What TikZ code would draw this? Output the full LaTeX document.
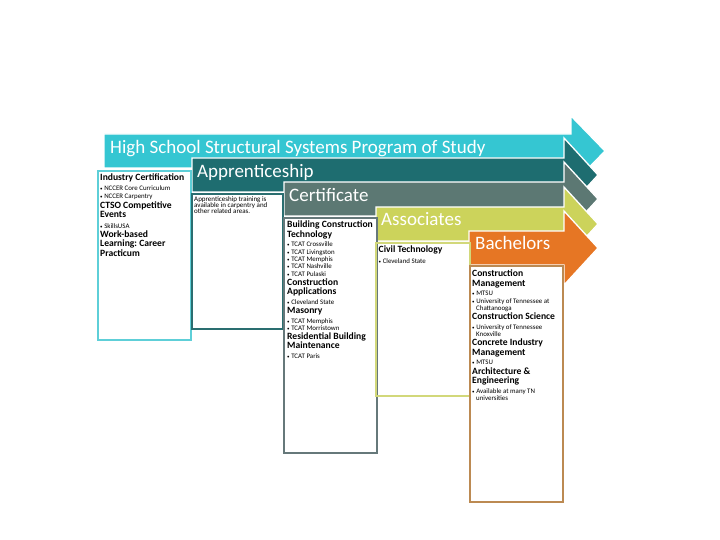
\documentclass[tikz,border=0pt]{standalone}
\usepackage{fontspec}
\setmainfont{Carlito}
\frenchspacing
\definecolor{aCyan}{HTML}{35C6D2}
\definecolor{aTeal}{HTML}{1E6D70}
\definecolor{aGrey}{HTML}{5C7873}
\definecolor{aYell}{HTML}{CCD35B}
\definecolor{aOran}{HTML}{E67624}
\definecolor{bCyan}{HTML}{5ECFD8}
\definecolor{bTeal}{HTML}{2A6E70}
\definecolor{bGrey}{HTML}{66787A}
\definecolor{bYell}{HTML}{D2D87A}
\definecolor{bOran}{HTML}{BC8A52}
\newcommand\hd[1]{{\fontsize{9.6}{9.1}\selectfont\bfseries #1\par}\vspace{2.6pt}}
\newcommand\bl[1]{{\fontsize{6.9}{7.3}\selectfont{\fontsize{5}{5}\selectfont\textbullet}~#1\par}}
\newcommand\stagearrow[6]{%
  \fill[#1,draw=white,line width=1.3pt,line join=miter]
    (#2,#3) -- (#4,#3) -- (#4,#3-#6) -- (#5,#3+17) -- (#4,#3+34+#6)
    -- (#4,#3+34) -- (#2,#3+34) -- cycle;}
\tikzset{
  title/.style={anchor=base west,text=white,font=\fontsize{19}{21}\selectfont,inner sep=0pt},
  boxline/.style={line width=1.6pt},
  boxtext/.style={anchor=north west,inner sep=0pt,align=flush left,text width=#1}
}
\begin{document}
\begin{tikzpicture}[x=1pt,y=-1pt]
\useasboundingbox[fill=white] (0,0) rectangle (720,540);
% arrows
\stagearrow{aCyan}{104}{134}{571}{605}{18}
\stagearrow{aTeal}{192}{158}{564}{598}{20}
\stagearrow{aGrey}{284}{182}{564}{598}{20}
\stagearrow{aYell}{376}{207}{564}{598}{20}
\stagearrow{aOran}{469}{231}{564}{598}{20}
\node[title] (t1) at (110,153.5) {High School Structural Systems Program of Study};
\node[title] (t2) at (197,177.5) {Apprenticeship};
\node[title] (t3) at (289,201.5) {Certificate};
\node[title] (t4) at (381,225.5) {Associates};
\node[title] (t5) at (475,249.5) {Bachelors};
% boxes
\draw[boxline,bCyan] (98,171) rectangle (191,340);
\draw[boxline,bTeal] (192,194) rectangle (283,329);
\draw[boxline,bGrey] (284,218) rectangle (377,453);
\draw[boxline,bYell] (376,243) rectangle (470,396);
\draw[boxline,bOran] (470,266) rectangle (563,502);
\node[boxtext=89pt] (c1) at (100,174) {%
  \hd{Industry Certification}
  \bl{NCCER Core Curriculum}
  \bl{NCCER Carpentry}
  \vspace{1.5pt}\hd{CTSO Competitive\\Events}
  \vspace{1pt}\bl{SkillsUSA}
  \hd{Work-based\\Learning: Career\\Practicum}};
\node[boxtext=88pt] (c2) at (194,196) {%
  {\fontsize{7}{6.2}\selectfont Apprenticeship training is\\available in carpentry and\\other related areas.\par}};
\node[boxtext=91pt] (c3) at (287,221) {%
  \hd{Building Construction\\Technology}
  \bl{TCAT Crossville}
  \bl{TCAT Livingston}
  \bl{TCAT Memphis}
  \bl{TCAT Nashville}
  \bl{TCAT Pulaski}
  \hd{Construction\\Applications}
  \bl{Cleveland State}
  \hd{Masonry}
  \bl{TCAT Memphis}
  \bl{TCAT Morristown}
  \hd{Residential Building\\Maintenance}
  \bl{TCAT Paris}};
\node[boxtext=91pt] (c4) at (378.5,246) {%
  \hd{Civil Technology}
  \vspace{1pt}\bl{Cleveland State}};
\node[boxtext=91pt] (c5) at (472,270) {%
  \hd{Construction\\Management}
  \bl{MTSU}
  \bl{University of Tennessee at\\\hspace*{4pt}Chattanooga}
  \hd{Construction Science}
  \bl{University of Tennessee\\\hspace*{4pt}Knoxville}
  \hd{Concrete Industry\\Management}
  \bl{MTSU}
  \hd{Architecture \&\\Engineering}
  \bl{Available at many TN\\\hspace*{4pt}universities}};
\end{tikzpicture}
\end{document}
